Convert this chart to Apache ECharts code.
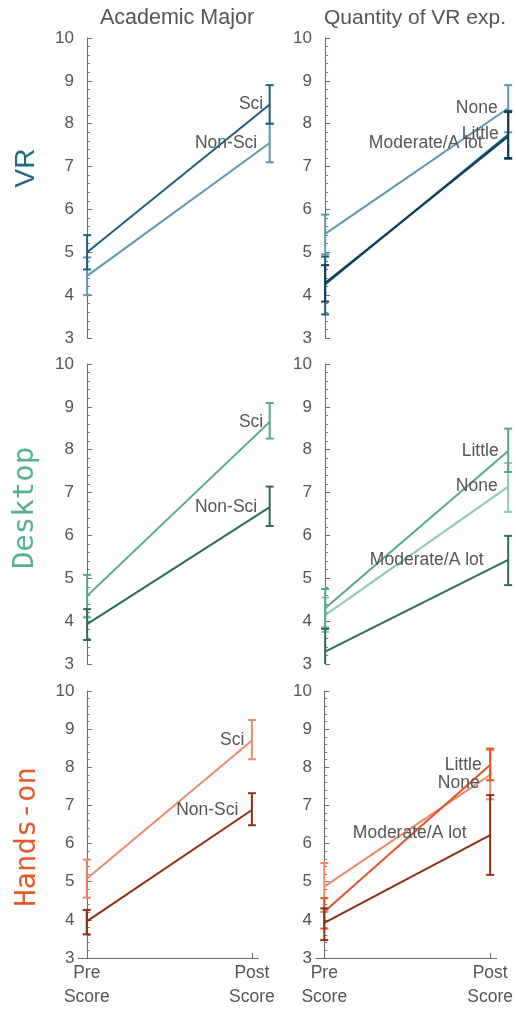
<!DOCTYPE html>
<html>
<head>
<meta charset="utf-8">
<script src="https://cdn.jsdelivr.net/npm/echarts@6/dist/echarts.min.js"></script>
<style>
html,body{margin:0;padding:0;background:#fff;}
#chart{width:516px;height:1009px;}
</style>
</head>
<body>
<div id="chart"></div>
<script>
// ---------- DATA ----------
const categories = ['Pre\nScore', 'Post\nScore'];
const columnTitles = ['Academic Major', 'Quantity of VR exp.'];
const rowTitles = ['VR', 'Desktop', 'Hands-on'];
const majorNames = ['Sci', 'Non-Sci'];
const expNames = ['None', 'Little', 'Moderate/A lot'];

// VR – Academic Major
const vrSciMean = [5.0, 8.45];
const vrSciLow = [4.6, 8.0];
const vrSciHigh = [5.4, 8.9];
const vrNonSciMean = [4.45, 7.55];
const vrNonSciLow = [4.0, 7.1];
const vrNonSciHigh = [4.88, 8.0];
// VR – Quantity of VR exp.
const vrNoneMean = [5.43, 8.36];
const vrNoneLow = [4.95, 7.8];
const vrNoneHigh = [5.88, 8.9];
const vrLittleMean = [4.25, 7.75];
const vrLittleLow = [3.55, 7.18];
const vrLittleHigh = [4.9, 8.3];
const vrModMean = [4.28, 7.7];
const vrModLow = [3.85, 7.2];
const vrModHigh = [4.7, 8.27];

// Desktop – Academic Major
const dtSciMean = [4.59, 8.65];
const dtSciLow = [4.09, 8.26];
const dtSciHigh = [5.08, 9.09];
const dtNonSciMean = [3.93, 6.66];
const dtNonSciLow = [3.56, 6.22];
const dtNonSciHigh = [4.28, 7.14];
// Desktop – Quantity of VR exp.
const dtNoneMean = [4.14, 7.14];
const dtNoneLow = [3.75, 6.55];
const dtNoneHigh = [4.55, 7.69];
const dtLittleMean = [4.3, 7.97];
const dtLittleLow = [3.85, 7.48];
const dtLittleHigh = [4.75, 8.49];
const dtModMean = [3.29, 5.43];
const dtModLow = [2.7, 4.84];
const dtModHigh = [3.82, 5.99];

// Hands-on – Academic Major
const hoSciMean = [5.08, 8.7];
const hoSciLow = [4.58, 8.21];
const hoSciHigh = [5.58, 9.24];
const hoNonSciMean = [3.96, 6.88];
const hoNonSciLow = [3.62, 6.48];
const hoNonSciHigh = [4.26, 7.32];
// Hands-on – Quantity of VR exp.
const hoNoneMean = [4.87, 7.8];
const hoNoneLow = [4.21, 7.16];
const hoNoneHigh = [5.49, 8.45];
const hoLittleMean = [4.21, 8.06];
const hoLittleLow = [3.77, 7.66];
const hoLittleHigh = [4.57, 8.49];
const hoModMean = [3.92, 6.22];
const hoModLow = [3.47, 5.18];
const hoModHigh = [4.3, 7.27];

// ---------- STYLE / LAYOUT ----------
const FONT = '"Liberation Sans", Arial, Helvetica, sans-serif';
const MONO = '"DejaVu Sans Mono", monospace';
const TXT = '#555';
const AX = '#6a6a6a';

const grids = [
  {left: 78, top: 38, width: 199, height: 300},
  {left: 316, top: 38, width: 199.5, height: 300},
  {left: 78, top: 364, width: 199, height: 300},
  {left: 316, top: 364, width: 199.5, height: 300},
  {left: 78.5, top: 691, width: 180, height: 273},
  {left: 316, top: 691, width: 181, height: 273}
];

const C = {
  vrDark: '#1d6079', vrDarkest: '#0f3f54', vrLight: '#5e98ab',
  dtMid: '#55a88e', dtDark: '#2e6b59', dtLight: '#8dcab5',
  hoLight: '#ee8a6b', hoMid: '#e1542a', hoDark: '#8e2f12'
};

function lineSeries(idx, name, mean, color, dist, offset) {
  return {
    type: 'line', name: name, xAxisIndex: idx, yAxisIndex: idx,
    data: mean.map((v, i) => [i, v]),
    symbol: 'circle', symbolSize: 1, showSymbol: true,
    lineStyle: {color: color, width: 2}, itemStyle: {color: color},
    label: {
      show: true, position: 'left', distance: dist, offset: offset || [0, 0],
      color: TXT, fontSize: 17.5, fontFamily: FONT,
      formatter: p => (p.dataIndex === 1 ? name : '')
    },
    emphasis: {disabled: true}, silent: true, z: 2
  };
}

function errSeries(idx, low, high, color) {
  return {
    type: 'custom', xAxisIndex: idx, yAxisIndex: idx, clip: true, silent: true, z: 3,
    data: low.map((l, i) => [i, l, high[i]]),
    encode: {x: 0, y: [1, 2]},
    renderItem: (params, api) => {
      const x = api.value(0);
      const lo = api.coord([x, api.value(1)]);
      const hi = api.coord([x, api.value(2)]);
      const w = 4;
      const style = {stroke: color, lineWidth: 2, fill: null};
      return {type: 'group', children: [
        {type: 'line', shape: {x1: lo[0], y1: lo[1], x2: hi[0], y2: hi[1]}, style: style},
        {type: 'line', shape: {x1: lo[0] - w, y1: lo[1], x2: lo[0] + w, y2: lo[1]}, style: style},
        {type: 'line', shape: {x1: hi[0] - w, y1: hi[1], x2: hi[0] + w, y2: hi[1]}, style: style}
      ]};
    }
  };
}

const xAxes = grids.map((g, i) => {
  const bottom = i >= 4;
  return {
    gridIndex: i, type: 'value', min: -0.05, max: 1.04, show: bottom,
    axisLine: {show: true, onZero: false, lineStyle: {color: AX, width: 1}},
    axisTick: {show: true, inside: true, length: 5, customValues: [0, 1], lineStyle: {color: AX}},
    axisLabel: {show: true, customValues: [0, 1], formatter: v => categories[Math.round(v)],
      color: TXT, fontSize: 17.5, lineHeight: 24, margin: 3, fontFamily: FONT},
    splitLine: {show: false}
  };
});

const yAxes = grids.map((g, i) => ({
  gridIndex: i, type: 'value', min: 3, max: 10, interval: 1,
  axisLine: {show: true, lineStyle: {color: AX, width: 1}},
  axisTick: {show: true, inside: true, length: 5, lineStyle: {color: AX}},
  minorTick: {show: true, splitNumber: 5, length: 3, lineStyle: {color: '#7a7a7a'}},
  splitLine: {show: false}, minorSplitLine: {show: false},
  axisLabel: {color: TXT, fontSize: 17, margin: 4, fontFamily: FONT}
}));

const series = [
  // VR major
  lineSeries(0, majorNames[1], vrNonSciMean, C.vrLight, 12),
  lineSeries(0, majorNames[0], vrSciMean, C.vrDark, 6),
  errSeries(0, vrNonSciLow, vrNonSciHigh, C.vrLight),
  errSeries(0, vrSciLow, vrSciHigh, C.vrDark),
  // VR exp
  lineSeries(1, expNames[0], vrNoneMean, C.vrLight, 10),
  lineSeries(1, expNames[1], vrLittleMean, C.vrDark, 9),
  lineSeries(1, expNames[2], vrModMean, C.vrDarkest, 9, [-16, 7]),
  errSeries(1, vrNoneLow, vrNoneHigh, C.vrLight),
  errSeries(1, vrLittleLow, vrLittleHigh, C.vrDark),
  errSeries(1, vrModLow, vrModHigh, C.vrDarkest),
  // Desktop major
  lineSeries(2, majorNames[0], dtSciMean, C.dtMid, 6),
  lineSeries(2, majorNames[1], dtNonSciMean, C.dtDark, 12),
  errSeries(2, dtSciLow, dtSciHigh, C.dtMid),
  errSeries(2, dtNonSciLow, dtNonSciHigh, C.dtDark),
  // Desktop exp
  lineSeries(3, expNames[0], dtNoneMean, C.dtLight, 10),
  lineSeries(3, expNames[1], dtLittleMean, C.dtMid, 9),
  lineSeries(3, expNames[2], dtModMean, C.dtDark, 9, [-15, 0]),
  errSeries(3, dtNoneLow, dtNoneHigh, C.dtLight),
  errSeries(3, dtLittleLow, dtLittleHigh, C.dtMid),
  errSeries(3, dtModLow, dtModHigh, C.dtDark),
  // Hands-on major
  lineSeries(4, majorNames[0], hoSciMean, C.hoLight, 7),
  lineSeries(4, majorNames[1], hoNonSciMean, C.hoDark, 13),
  errSeries(4, hoSciLow, hoSciHigh, C.hoLight),
  errSeries(4, hoNonSciLow, hoNonSciHigh, C.hoDark),
  // Hands-on exp
  lineSeries(5, expNames[0], hoNoneMean, C.hoLight, 9, [-1, 8]),
  lineSeries(5, expNames[1], hoLittleMean, C.hoMid, 8),
  lineSeries(5, expNames[2], hoModMean, C.hoDark, 9, [-14, -2]),
  errSeries(5, hoNoneLow, hoNoneHigh, C.hoLight),
  errSeries(5, hoLittleLow, hoLittleHigh, C.hoMid),
  errSeries(5, hoModLow, hoModHigh, C.hoDark)
];

const graphic = [
  {type: 'text', x: 177, y: 18, silent: true,
    style: {text: columnTitles[0], fill: TXT, font: '21.5px ' + FONT, textAlign: 'center', textVerticalAlign: 'middle'}},
  {type: 'text', x: 415, y: 18, silent: true,
    style: {text: columnTitles[1], fill: TXT, font: '21px ' + FONT, textAlign: 'center', textVerticalAlign: 'middle'}},
  {type: 'text', x: 26, y: 168, rotation: Math.PI / 2, silent: true,
    style: {text: rowTitles[0], fill: '#1f6985', font: '28px ' + FONT, textAlign: 'center', textVerticalAlign: 'middle'}},
  {type: 'text', x: 25, y: 508, rotation: Math.PI / 2, silent: true,
    style: {text: rowTitles[1], fill: '#5aae94', font: '29px ' + MONO, textAlign: 'center', textVerticalAlign: 'middle'}},
  {type: 'text', x: 27, y: 837, rotation: Math.PI / 2, silent: true,
    style: {text: rowTitles[2], fill: '#e4582c', font: '29px ' + MONO, textAlign: 'center', textVerticalAlign: 'middle'}}
];

const chart = echarts.init(document.getElementById('chart'), null, {renderer: 'canvas'});
chart.setOption({
  animation: false,
  backgroundColor: '#fff',
  grid: grids,
  xAxis: xAxes,
  yAxis: yAxes,
  series: series,
  graphic: graphic
});
</script>
</body>
</html>
